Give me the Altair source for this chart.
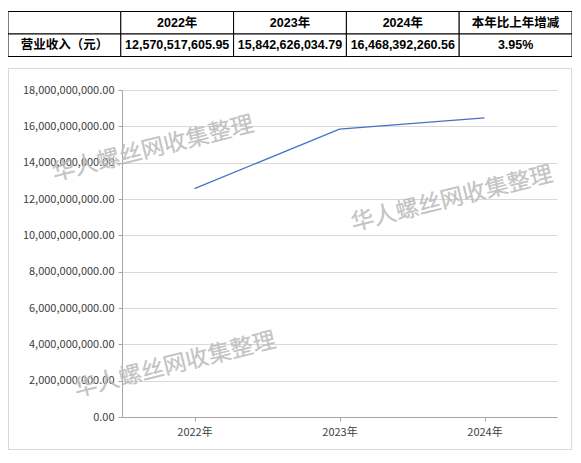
import altair as alt
import pandas as pd

# ---- data ----
years = ["2022年", "2023年", "2024年"]
revenue = [12570517605.95, 15842626034.79, 16468392260.56]

table_header = ["", "2022年", "2023年", "2024年", "本年比上年增减"]
table_row = ["营业收入（元）", "12,570,517,605.95", "15,842,626,034.79", "16,468,392,260.56", "3.95%"]

y_ticks = [0, 2e9, 4e9, 6e9, 8e9, 10e9, 12e9, 14e9, 16e9, 18e9]
watermark = "华人螺丝网收集整理"

# ---- tables for the library ----
line_df = pd.DataFrame({"year": years, "value": revenue})
cells = []
for r, row in enumerate([table_header, table_row]):
    for c, txt in enumerate(row):
        cells.append({"row": r, "col": c, "text": txt})
cell_df = pd.DataFrame(cells)

W, H = 435, 327
PL, PT = 114, 82
TOTAL_W, TOTAL_H = 564, 443

axis_font = "Noto Sans CJK SC"
table_font = "Liberation Sans, Noto Sans CJK SC"

# outer box of the chart area
box = alt.Chart(line_df).mark_rect(
    fillOpacity=0, stroke="#d9d9d9", strokeWidth=1
).encode(
    x=alt.value(-113.5), x2=alt.value(449.5),
    y=alt.value(-21.5), y2=alt.value(359.5),
)

line = alt.Chart(line_df).mark_line(color="#4472C4", strokeWidth=1.25).encode(
    x=alt.X("year:N", sort=years,
            scale=alt.Scale(type="point", padding=0.5),
            axis=alt.Axis(title=None, labelAngle=0, labelFont=axis_font,
                          labelFontSize=11, labelColor="#404040",
                          domainColor="#a6a6a6", tickColor="#a6a6a6",
                          tickSize=4, labelPadding=5, grid=False)),
    y=alt.Y("value:Q",
            scale=alt.Scale(domain=[0, 18e9], nice=False, zero=True),
            axis=alt.Axis(title=None, values=y_ticks, format=",.2f",
                          labelFont=axis_font, labelFontSize=11,
                          labelColor="#404040", domainColor="#a6a6a6",
                          tickColor="#a6a6a6", tickSize=4, labelPadding=4,
                          gridColor="#d9d9d9", grid=True)),
)

def wm(xv, yv):
    return alt.Chart(line_df).mark_text(
        text=watermark, font="Noto Sans CJK SC", fontSize=23,
        fontWeight="normal", color="#bdbdbd", opacity=0.5, angle=346,
        align="center", baseline="middle",
    ).encode(x=alt.value(xv), y=alt.value(yv))

marks = [wm(31, 59), wm(330, 109), wm(53, 275)]

tx = alt.X("col:O", scale=alt.Scale(domain=[0, 1, 2, 3, 4], range=[-114, 450],
                                     paddingInner=0, paddingOuter=0), axis=None)
ty = alt.Y("row:O", scale=alt.Scale(domain=[0, 1], range=[-78.5, -33.5],
                                     paddingInner=0, paddingOuter=0), axis=None)

table_cells = alt.Chart(cell_df).mark_rect(
    fill="white", stroke="#000000", strokeWidth=1
).encode(x=tx, y=ty)

table_text = alt.Chart(cell_df).mark_text(
    font=table_font, fontSize=12.5, fontWeight="bold", color="#000000",
    align="center", baseline="middle",
).encode(x=tx, y=ty, text="text:N")

chart = alt.layer(
    box, line, *marks, table_cells, table_text
).resolve_scale(
    x="independent", y="independent"
).properties(
    width=W, height=H,
    autosize=alt.AutoSizeParams(type="none"),
    padding={"left": PL, "top": PT, "right": TOTAL_W - PL - W, "bottom": TOTAL_H - PT - H},
    background="white",
).configure_view(stroke=None)

chart.save("out.html", embed_options={"renderer": "svg", "actions": False})
